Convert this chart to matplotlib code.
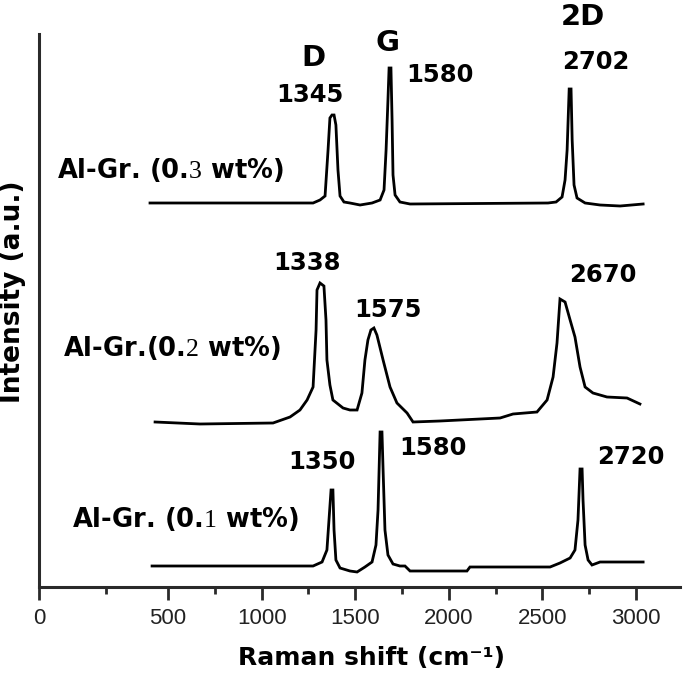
import matplotlib
matplotlib.use("Agg")
import matplotlib.pyplot as plt

plt.rcParams["mathtext.fontset"] = "custom"
plt.rcParams["mathtext.rm"] = "Liberation Serif"

# ---------------- data (Raman shift, intensity in a.u. with vertical offsets) ----------------
shift_03 = [404, 1275, 1312, 1339, 1355, 1365, 1376, 1387, 1397, 1408, 1419, 1440, 1472, 1526,
            1590, 1633, 1654, 1665, 1675, 1681, 1691, 1697, 1702, 1713, 1739, 1793, 2530, 2573,
            2605, 2621, 2632, 2643, 2653, 2659, 2669, 2685, 2728, 2808, 2915, 3038]
inten_03 = [384, 384, 387, 391, 437, 469, 472, 472, 462, 417, 391, 385, 384, 382,
            384, 387, 397, 437, 487, 519, 519, 467, 412, 392, 385, 383, 384, 385,
            390, 407, 437, 498, 498, 447, 402, 389, 384, 382, 381, 383]

shift_02 = [431, 671, 1061, 1152, 1205, 1243, 1275, 1291, 1296, 1312, 1333, 1344, 1349, 1365,
            1381, 1435, 1472, 1510, 1536, 1552, 1568, 1584, 1600, 1616, 1649, 1686, 1723, 1777,
            1809, 1953, 2274, 2343, 2471, 2525, 2557, 2578, 2594, 2621, 2648, 2674, 2701, 2728,
            2770, 2845, 2952, 3021]
inten_02 = [165, 163, 164, 170, 177, 187, 200, 257, 297, 304, 301, 267, 227, 202,
            187, 179, 177, 177, 194, 227, 247, 257, 259, 252, 227, 200, 184, 174,
            165, 166, 169, 173, 175, 187, 210, 244, 288, 285, 267, 250, 220, 200,
            194, 190, 189, 183]

shift_01 = [415, 1275, 1323, 1349, 1360, 1371, 1381, 1387, 1397, 1419, 1472, 1510, 1552, 1590,
            1611, 1622, 1633, 1643, 1649, 1659, 1675, 1702, 1739, 1766, 1793, 2097, 2113, 2541,
            2594, 2648, 2674, 2690, 2701, 2712, 2717, 2728, 2744, 2765, 2808, 3038]
inten_01 = [21, 21, 25, 37, 67, 97, 97, 57, 27, 19, 16, 15, 20, 25,
            42, 77, 155, 155, 117, 57, 32, 23, 21, 21, 16, 16, 20, 20,
            24, 29, 37, 67, 118, 118, 87, 42, 27, 22, 25, 25]

sample_labels = ["Al-Gr. (0.$\\mathrm{3}$ wt%)", "Al-Gr.(0.$\\mathrm{2}$ wt%)",
                 "Al-Gr. (0.$\\mathrm{1}$ wt%)"]

peak_labels = ["1345", "1580", "2702", "1338", "1575", "2670", "1350", "1580", "2720"]
band_labels = ["D", "G", "2D"]

x_tick_labels = ["0", "500", "1000", "1500", "2000", "2500", "3000"]
x_tick_values = [500, 1000, 1500, 2000, 2500, 3000]
x_minor_values = [169, 750, 1250, 1750, 2250, 2750]

XMIN, XMAX = -189, 3235
YMIN, YMAX = 0, 553

# ---------------- figure ----------------
W, H = 685, 674
fig = plt.figure(figsize=(W / 100, H / 100), dpi=100)
ax = fig.add_axes([39 / W, (H - 587) / H, (680 - 39) / W, (587 - 34) / H])

lw = 2.0
for xs, ys in [(shift_03, inten_03), (shift_02, inten_02), (shift_01, inten_01)]:
    ax.plot(xs, ys, color="black", lw=lw, solid_joinstyle="miter")

ax.set_xlim(XMIN, XMAX)
ax.set_ylim(YMIN, YMAX)

spine_col = "#2a2a2a"
for s in ["top", "right"]:
    ax.spines[s].set_visible(False)
for s in ["left", "bottom"]:
    ax.spines[s].set_linewidth(2.2)
    ax.spines[s].set_color(spine_col)

ax.set_yticks([])
ax.set_xticks([XMIN] + x_tick_values)
ax.set_xticklabels(x_tick_labels, family="Liberation Sans", fontsize=16, color="#222222")
ax.set_xticks(x_minor_values, minor=True)
ax.tick_params(axis="x", which="major", direction="out", length=9, width=2,
               color=spine_col, pad=6)
ax.tick_params(axis="x", which="minor", direction="out", length=5, width=2,
               color=spine_col)

bold = dict(family="DejaVu Sans", fontweight="bold", color="black")

# sample labels
ax.text(-93, 417, sample_labels[0], fontsize=18.5, ha="left", va="center", **bold)
ax.text(-61, 239, sample_labels[1], fontsize=18.5, ha="left", va="center", **bold)
ax.text(-13, 68, sample_labels[2], fontsize=18.5, ha="left", va="center", **bold)

# band labels
ax.text(1275, 529, band_labels[0], fontsize=21, ha="center", va="center", **bold)
ax.text(1675, 544, band_labels[1], fontsize=21, ha="center", va="center", **bold)
ax.text(2717, 570, band_labels[2], fontsize=21, ha="center", va="center", clip_on=False, **bold)

# peak labels
peak_pos = [(1259, 492), (1953, 512), (2786, 525),
            (1243, 324), (1675, 277), (2824, 312),
            (1323, 125), (1916, 139), (2973, 130)]
for lab, (px, py) in zip(peak_labels, peak_pos):
    ax.text(px, py, lab, fontsize=17.5, ha="center", va="center", **bold)

fig.text(372 / W, 1 - 658 / H, "Raman shift (cm⁻¹)", fontsize=18, ha="center", va="center", **bold)
fig.text(13 / W, 1 - 292 / H, "Intensity (a.u.)", fontsize=19, rotation=90,
         ha="center", va="center", **bold)

fig.savefig("out.png", dpi=100)
